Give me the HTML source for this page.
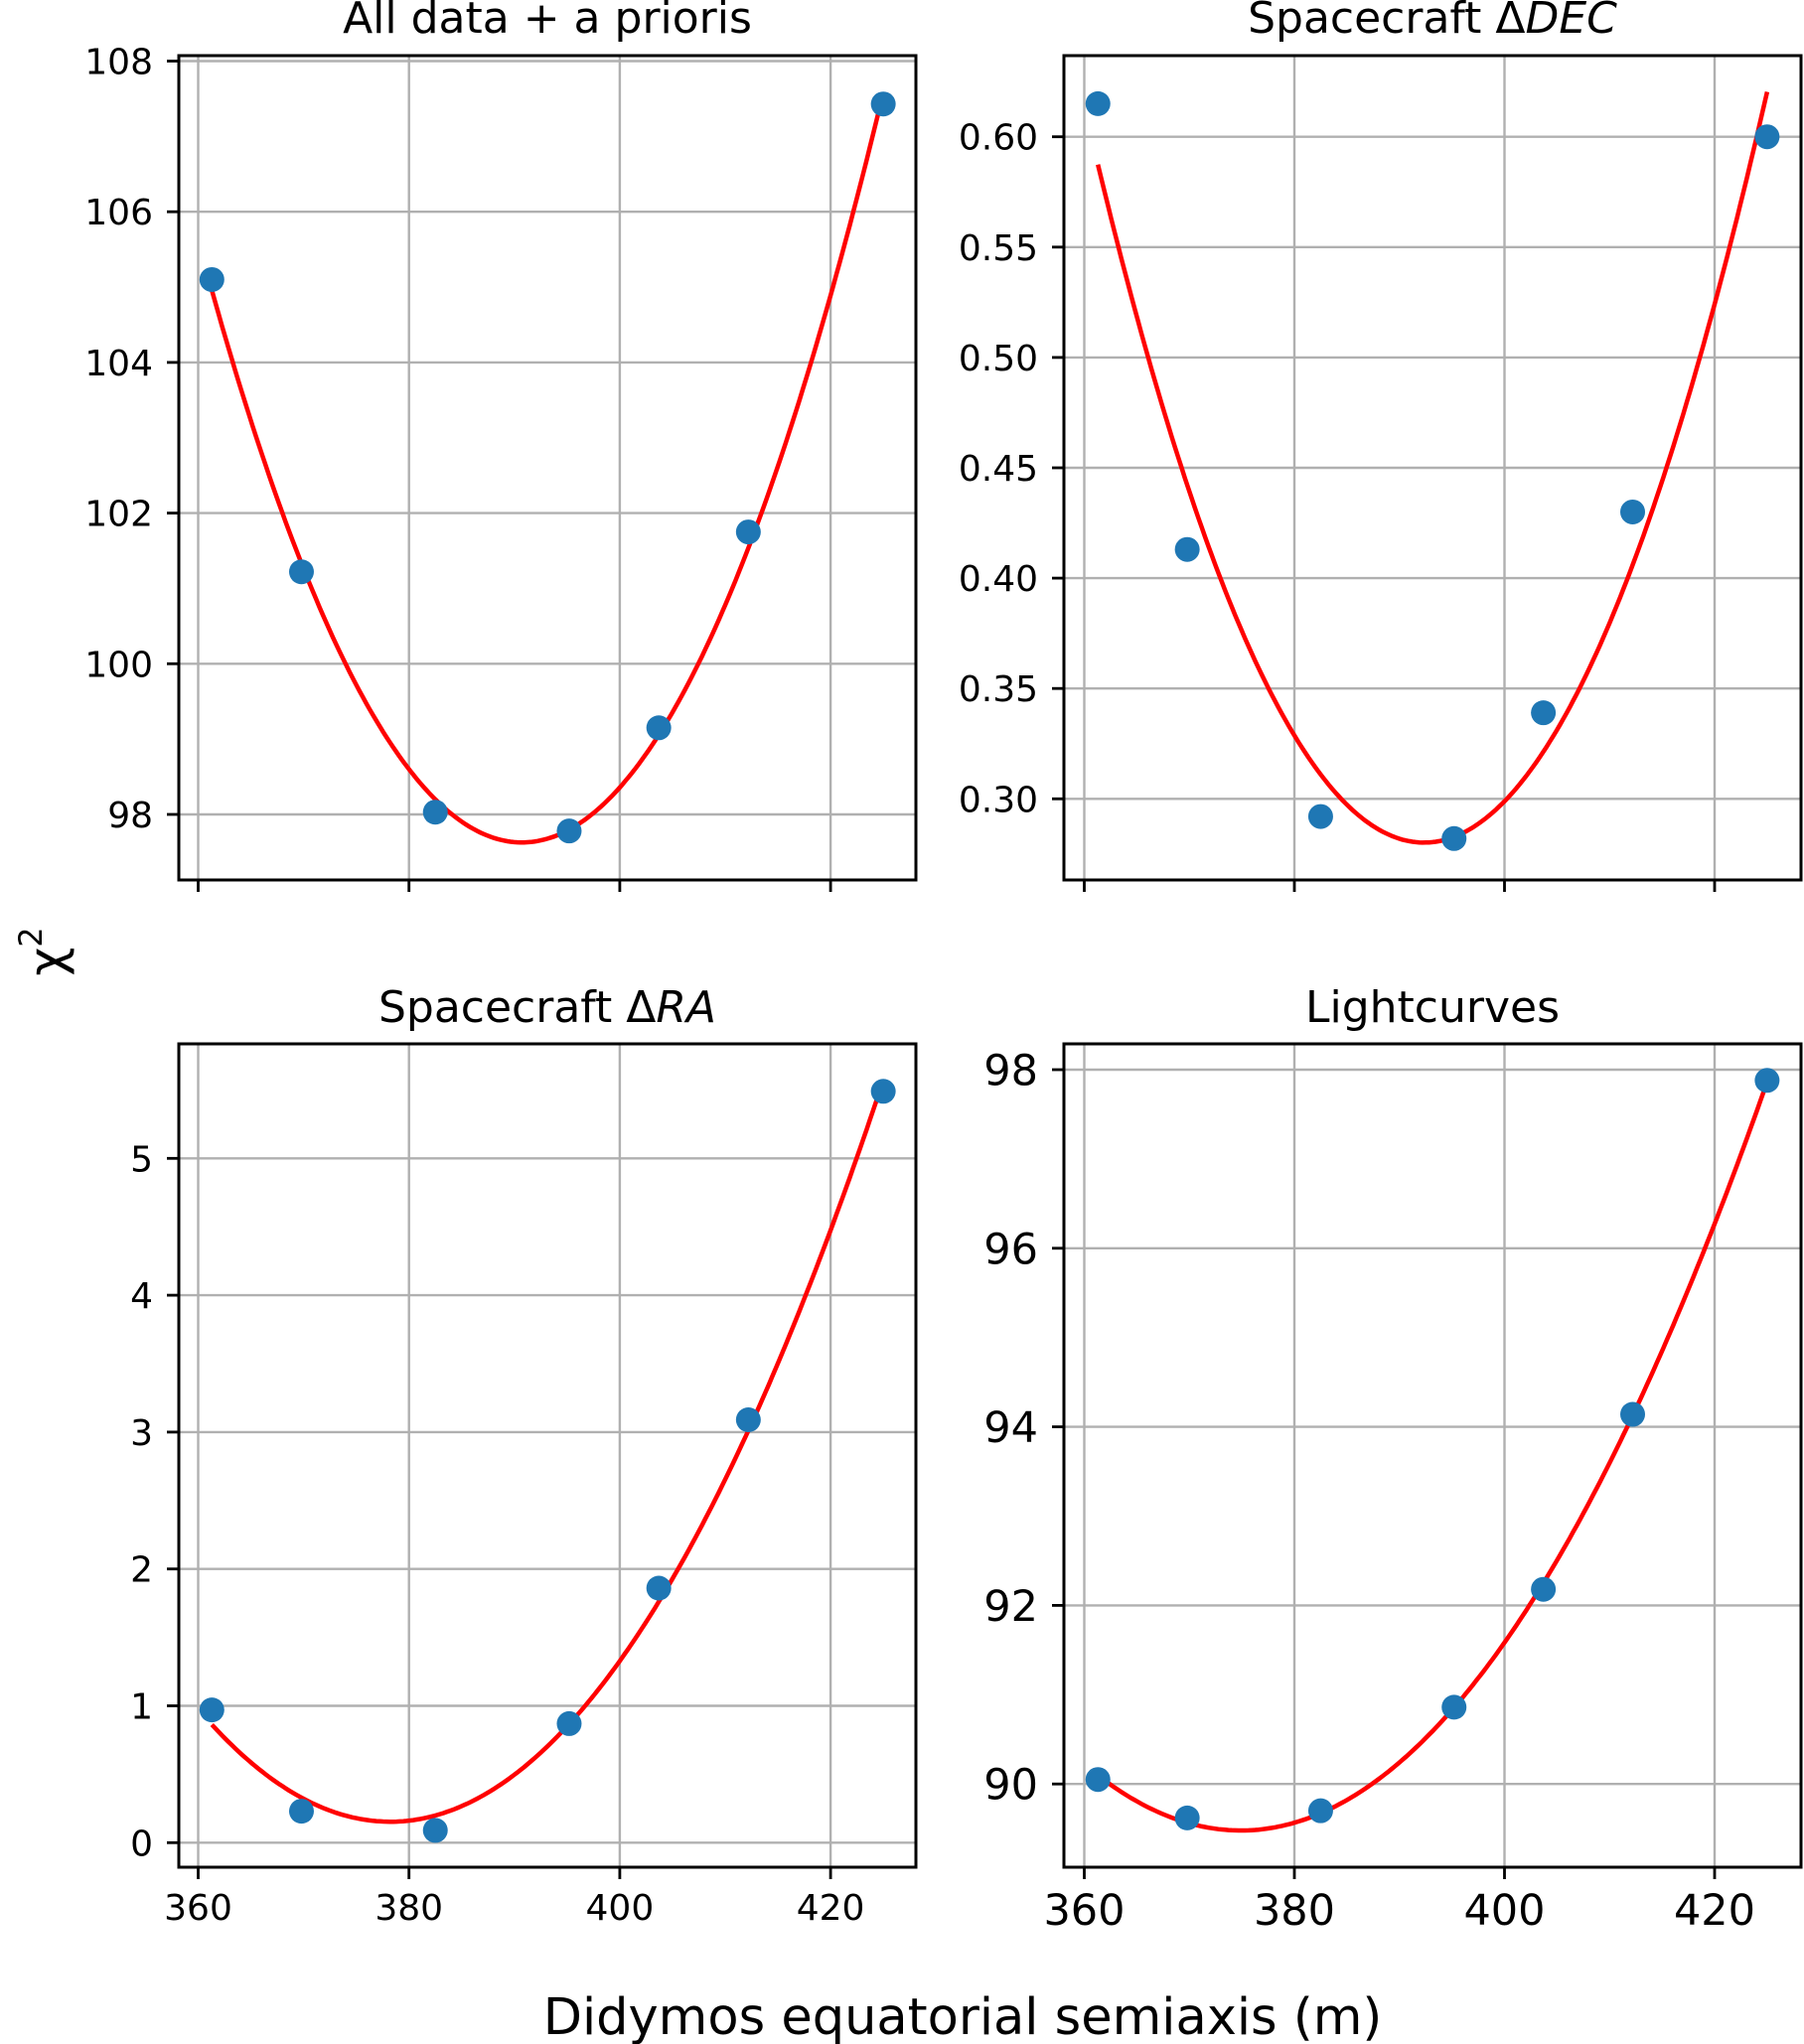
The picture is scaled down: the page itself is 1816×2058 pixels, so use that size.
<!DOCTYPE html>
<html><head><meta charset="utf-8">
<style>html,body{margin:0;padding:0;background:#fff;}svg{display:block;}</style>
</head><body>
<svg id="s" xmlns="http://www.w3.org/2000/svg" width="1816" height="2058" viewBox="0 0 1816 2058" font-family="'DejaVu Sans','Liberation Sans',sans-serif"></svg>
<script>
var S=document.getElementById('s');var h='';
var xs=[361.3,369.8,382.5,395.2,403.7,412.2,425.0];
function fit(x,y){var n=x.length,m=393;var A=[[0,0,0],[0,0,0],[0,0,0]],b=[0,0,0];
for(var i=0;i<n;i++){var t=x[i]-m,p=[1,t,t*t];for(var r=0;r<3;r++){b[r]+=p[r]*y[i];for(var c=0;c<3;c++)A[r][c]+=p[r]*p[c];}}
for(var k=0;k<3;k++){for(var r=k+1;r<3;r++){var f=A[r][k]/A[k][k];for(var c=k;c<3;c++)A[r][c]-=f*A[k][c];b[r]-=f*b[k];}}
var z=[0,0,0];for(var r=2;r>=0;r--){var s=b[r];for(var c=r+1;c<3;c++)s-=A[r][c]*z[c];z[r]=s/A[r][r];}
return function(v){var t=v-m;return z[0]+z[1]*t+z[2]*t*t;};}
function panel(o){
var L=o.L,R=o.R,T=o.T,B=o.B;
function X(v){return o.x360+(v-360)*o.xs;}
function Y(v){return o.y0-(v-o.v0)*o.ys;}
[360,380,400,420].forEach(function(v){var x=X(v);h+='<line x1="'+x+'" y1="'+T+'" x2="'+x+'" y2="'+B+'" stroke="#b0b0b0" stroke-width="2.4"/>';
h+='<line x1="'+x+'" y1="'+B+'" x2="'+x+'" y2="'+(B+12)+'" stroke="#000" stroke-width="2.8"/>';
if(o.xl)h+='<text x="'+x+'" y="'+(B+o.xlOff)+'" font-size="'+o.fs+'" text-anchor="middle">'+v+'</text>';});
o.ticks.forEach(function(v){var y=Y(v);h+='<line x1="'+L+'" y1="'+y+'" x2="'+R+'" y2="'+y+'" stroke="#b0b0b0" stroke-width="2.4"/>';
h+='<line x1="'+(L-12)+'" y1="'+y+'" x2="'+L+'" y2="'+y+'" stroke="#000" stroke-width="2.8"/>';
h+='<text x="'+(L-26)+'" y="'+(y+o.fs*0.36)+'" font-size="'+o.fs+'" text-anchor="end">'+(o.fmt?o.fmt(v):v)+'</text>';});
var f=fit(xs,o.y),d='';
for(var i=0;i<=200;i++){var v=xs[0]+(xs[6]-xs[0])*i/200;d+=(i?'L':'M')+X(v).toFixed(1)+' '+Y(f(v)).toFixed(1);}
h+='<path d="'+d+'" fill="none" stroke="#ff0000" stroke-width="4.5"/>';
xs.forEach(function(v,i){h+='<circle cx="'+X(v)+'" cy="'+Y(o.y[i])+'" r="12.5" fill="#1f77b4"/>';});
h+='<rect x="'+L+'" y="'+T+'" width="'+(R-L)+'" height="'+(B-T)+'" fill="none" stroke="#000" stroke-width="3"/>';
h+='<text x="'+((L+R)/2)+'" y="'+o.ty+'" font-size="44" text-anchor="middle">'+o.title+'</text>';
}
panel({L:180,R:922,T:56,B:886,x360:199.5,xs:10.61,y0:820,v0:98,ys:75.85,ticks:[98,100,102,104,106,108],
y:[105.1,101.22,98.03,97.78,99.15,101.75,107.43],fs:36,xl:false,ty:33,title:'All data + a prioris'});
panel({L:1071,R:1813,T:56,B:886,x360:1091.5,xs:10.575,y0:804.3,v0:0.30,ys:2222,ticks:[0.30,0.35,0.40,0.45,0.50,0.55,0.60],fmt:function(v){return v.toFixed(2);},
y:[0.615,0.413,0.292,0.282,0.339,0.430,0.600],fs:36,xl:false,ty:33,title:'Spacecraft Δ<tspan font-style="italic">DEC</tspan>'});
panel({L:180,R:922,T:1051,B:1880,x360:199.5,xs:10.61,y0:1855.3,v0:0,ys:137.8,ticks:[0,1,2,3,4,5],
y:[0.97,0.23,0.09,0.87,1.86,3.09,5.49],fs:36,xl:true,xlOff:53,ty:1029,title:'Spacecraft Δ<tspan font-style="italic">RA</tspan>'});
panel({L:1071,R:1813,T:1051,B:1880,x360:1091.5,xs:10.575,y0:1796.2,v0:90,ys:89.9,ticks:[90,92,94,96,98],
y:[90.05,89.62,89.70,90.86,92.18,94.14,97.88],fs:43,xl:true,xlOff:58,ty:1029,title:'Lightcurves'});
h+='<text x="969" y="2048" font-size="51" text-anchor="middle">Didymos equatorial semiaxis (m)</text>';
h+='<text transform="translate(64,958) rotate(-90)" font-size="50" text-anchor="middle">χ<tspan font-size="32" dy="-22">2</tspan></text>';
S.innerHTML=h;
</script>
</body></html>
